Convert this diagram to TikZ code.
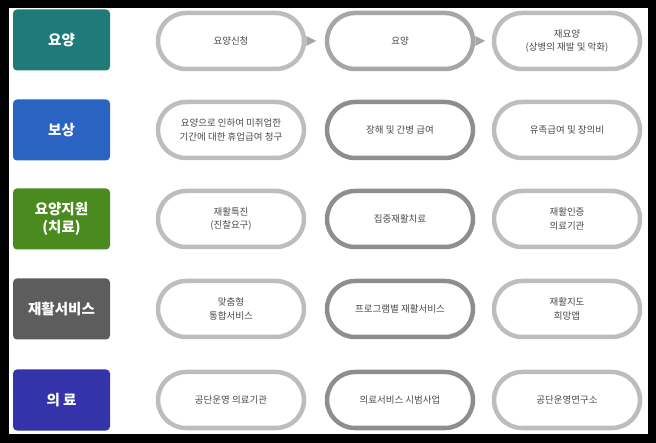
\documentclass[tikz,border=0pt]{standalone}
\usepackage{fontspec}
\newfontfamily\kr{Noto Sans CJK KR}
\definecolor{cteal}{HTML}{1F7B78}
\definecolor{cblue}{HTML}{2A63C2}
\definecolor{cgreen}{HTML}{4B8A1F}
\definecolor{cgray}{HTML}{5D5D5D}
\definecolor{cindigo}{HTML}{3533AA}
\definecolor{plight}{HTML}{BDBDBD}
\definecolor{pdark}{HTML}{8E8E8E}
\definecolor{pmid}{HTML}{A6A6A6}
\definecolor{ptext}{HTML}{4A4A4A}
\begin{document}
\begin{tikzpicture}[x=1pt,y=-1pt,
  cat/.style={rectangle, rounded corners=4pt, minimum width=97pt, minimum height=61pt,
    text=white, font=\kr\bfseries\fontsize{14.5}{18.5}\selectfont, align=center, inner sep=0pt},
  pill/.style={rectangle, rounded corners=28pt, minimum width=146pt, minimum height=56pt,
    line width=4.5pt, draw=plight, fill=white, text=ptext,
    font=\kr\fontsize{9.5}{13.5}\selectfont, align=center, inner sep=0pt},
  pilldark/.style={pill, draw=pdark},
  pillmid/.style={pill, draw=pmid},
  tailc/.style={fill=pmid}]
\useasboundingbox (0,0) rectangle (656,443);
\fill[black] (0,0) rectangle (656,443);
\fill[white] (9,8) rectangle (648,434);

% categories
\node[cat, fill=cteal]   (c1) at (61.5,40)  {요양};
\node[cat, fill=cblue]   (c2) at (61.5,130) {보상};
\node[cat, fill=cgreen]  (c3) at (61.5,219) {요양지원\\(치료)};
\node[cat, fill=cgray]   (c4) at (61.5,309) {재활서비스};
\node[cat, fill=cindigo] (c5) at (61.5,400) {의 료};

% row 1
\node[pill]     (p11) at (231,41) {요양신청};
\node[pillmid]  (p12) at (400,41) {요양};
\node[pill]     (p13) at (567,41) {재요양\\(상병의 재발 및 악화)};
\fill[tailc] (p11.east) ++(0,-5) -- ++(10,5) -- ++(-10,5) -- cycle;
\fill[tailc] (p12.east) ++(0,-5) -- ++(10,5) -- ++(-10,5) -- cycle;

% row 2
\node[pill]     (p21) at (231,130) {요양으로 인하여 미취업한\\기간에 대한 휴업급여 청구};
\node[pilldark] (p22) at (400,130) {장해 및 간병 급여};
\node[pill]     (p23) at (567,130) {유족급여 및 장의비};

% row 3
\node[pill]     (p31) at (231,219) {재활특진\\(진찰요구)};
\node[pilldark] (p32) at (400,219) {집중재활치료};
\node[pill]     (p33) at (567,219) {재활인증\\의료기관};

% row 4
\node[pill]     (p41) at (231,309) {맞춤형\\통합서비스};
\node[pilldark] (p42) at (400,309) {프로그램별 재활서비스};
\node[pill]     (p43) at (567,309) {재활지도\\희망앱};

% row 5
\node[pill]     (p51) at (231,400) {공단운영 의료기관};
\node[pilldark] (p52) at (400,400) {의료서비스 시범사업};
\node[pill]     (p53) at (567,400) {공단운영연구소};
\end{tikzpicture}
\end{document}
